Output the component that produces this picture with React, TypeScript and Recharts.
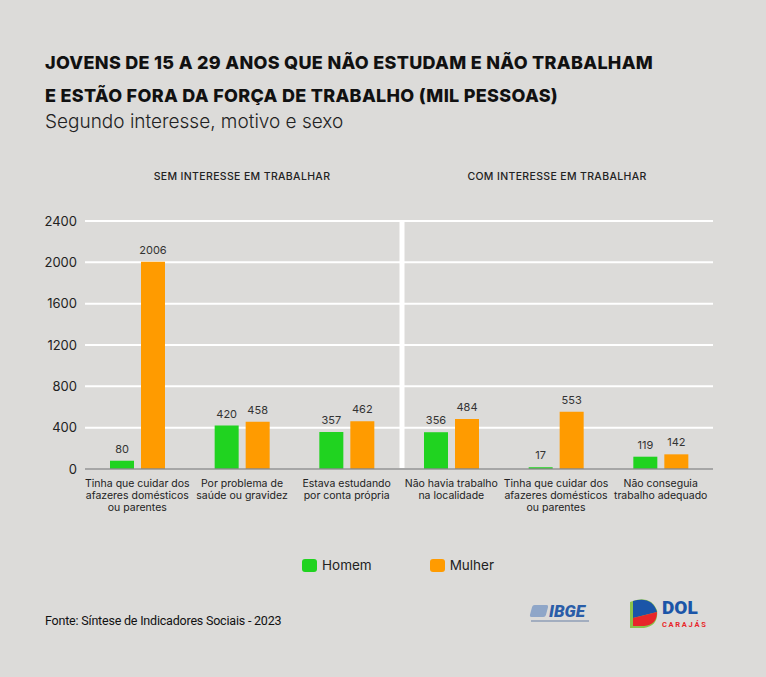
import { BarChart, Bar, XAxis, YAxis, CartesianGrid, LabelList, Legend } from 'recharts';

const categories = [
  'Tinha que cuidar dos\nafazeres domésticos\nou parentes',
  'Por problema de\nsaúde ou gravidez',
  'Estava estudando\npor conta própria',
  'Não havia trabalho\nna localidade',
  'Tinha que cuidar dos\nafazeres domésticos\nou parentes',
  'Não conseguia\ntrabalho adequado',
];
const homem = [80, 420, 357, 356, 17, 119];
const mulher = [2006, 458, 462, 484, 553, 142];
const yTicks = [0, 400, 800, 1200, 1600, 2000, 2400];
const sections = ['SEM INTERESSE EM TRABALHAR', 'COM INTERESSE EM TRABALHAR'];

const GREEN = '#20d320';
const ORANGE = '#ff9b00';
const BG = '#dcdbd9';
const FONT = 'Inter, "Open Sans", sans-serif';

const data = categories.map((c, i) => ({ id: 'c' + i, label: c, homem: homem[i], mulher: mulher[i] }));

const CategoryTick = (props: any) => {
  const { x, y, index } = props;
  const lines = categories[index].split('\n');
  return (
    <text x={x} y={y} textAnchor="middle" fontSize={10.5} fill="#222" fontFamily={FONT}>
      {lines.map((l, i) => (
        <tspan key={i} x={x} dy={i === 0 ? 10 : 12}>
          {l}
        </tspan>
      ))}
    </text>
  );
};

const LegendContent = () => (
  <div style={{ display: 'flex', paddingLeft: 302, fontFamily: FONT, fontSize: 13.5, color: '#222' }}>
    {[
      ['Homem', GREEN],
      ['Mulher', ORANGE],
    ].map(([name, color], i) => (
      <div key={name} style={{ display: 'flex', alignItems: 'center', marginRight: i === 0 ? 58 : 0 }}>
        <span style={{ width: 15, height: 13, borderRadius: 3, background: color, marginRight: 5 }} />
        {name}
      </div>
    ))}
  </div>
);

export default function App() {
  return (
    <div style={{ position: 'absolute', top: 0, left: 0, width: 766, height: 677, background: BG, overflow: 'hidden', fontFamily: FONT, color: '#111' }}>
      <div style={{ position: 'absolute', left: 45, top: 46, fontSize: 18, fontWeight: 800, lineHeight: '33px', letterSpacing: 0.3, whiteSpace: 'nowrap' }}>
        JOVENS DE 15 A 29 ANOS QUE NÃO ESTUDAM E NÃO TRABALHAM
        <br />
        E ESTÃO FORA DA FORÇA DE TRABALHO (MIL PESSOAS)
      </div>
      <div style={{ position: 'absolute', left: 45, top: 110, fontSize: 19, fontWeight: 300, color: '#222' }}>
        Segundo interesse, motivo e sexo
      </div>
      {sections.map((s, i) => (
        <div
          key={s}
          style={{ position: 'absolute', top: 170, left: i === 0 ? 142 : 457, width: 200, textAlign: 'center', fontSize: 10.5, fontWeight: 500, letterSpacing: 0.35, color: '#222' }}
        >
          {s}
        </div>
      ))}
      <div style={{ position: 'absolute', top: 0, left: 0 }}>
        <BarChart width={766} height={540} data={data} margin={{ top: 221, right: 53, left: 40, bottom: 21 }} barSize={24} barGap={7}>
          <CartesianGrid vertical={false} stroke="#ffffff" strokeWidth={2} />
          <CartesianGrid
            horizontal={false}
            stroke="#ffffff"
            strokeWidth={5}
            verticalCoordinatesGenerator={({ offset }: any) => [offset.left + offset.width / 2 + 3]}
          />
          <XAxis dataKey="id" interval={0} tickLine={false} axisLine={{ stroke: '#888', strokeWidth: 1.5 }} height={50} tick={<CategoryTick />} />
          <YAxis
            domain={[0, 2400]}
            ticks={yTicks}
            width={45}
            tickLine={false}
            axisLine={false}
            tick={{ fontSize: 13, fill: '#222', fontFamily: FONT }}
          />
          <Legend verticalAlign="middle" align="center" wrapperStyle={{ top: 557, left: 0, width: 766 }} content={<LegendContent />} />
          <Bar dataKey="homem" name="Homem" fill={GREEN} isAnimationActive={false}>
            <LabelList dataKey="homem" position="top" offset={8} fontSize={11} fill="#333" fontFamily={FONT} />
          </Bar>
          <Bar dataKey="mulher" name="Mulher" fill={ORANGE} isAnimationActive={false}>
            <LabelList dataKey="mulher" position="top" offset={8} fontSize={11} fill="#333" fontFamily={FONT} />
          </Bar>
        </BarChart>
      </div>
      <div style={{ position: 'absolute', left: 45, top: 613, fontSize: 12.5, fontFamily: 'Roboto, sans-serif', color: '#111', letterSpacing: -0.2 }}>
        Fonte: Síntese de Indicadores Sociais - 2023
      </div>
      <div style={{ position: 'absolute', left: 531, top: 601, display: 'flex', alignItems: 'center' }}>
        <div style={{ width: 16, height: 12, background: '#8fa6c8', marginRight: 2, transform: 'skewX(-15deg)', borderRadius: 2 }} />
        <div style={{ fontFamily: 'Roboto, sans-serif', fontStyle: 'italic', fontWeight: 900, fontSize: 17, color: '#2a5da8', letterSpacing: 0 }}>IBGE</div>
      </div>
      <div style={{ position: 'absolute', left: 531, top: 620, width: 58, height: 1.5, background: '#a2adbf' }} />
      <svg style={{ position: 'absolute', left: 628, top: 596 }} width={90} height={40}>
        <path d="M2 6 Q 22 -2 29 14 Q 31 30 16 32 L 2 32 Z" fill="#8bc34a" />
        <path d="M5 5 Q 24 0 29 16 L 5 22 Z" fill="#1b55a8" />
        <path d="M5 22 L 29 16 Q 29 29 16 30 L 5 30 Z" fill="#e8262a" />
        <text x={34} y={18} fontFamily="Roboto, sans-serif" fontWeight={900} fontSize={19} fill="#1b55a8">DOL</text>
        <text x={34} y={31} fontFamily="Roboto, sans-serif" fontWeight={700} fontSize={7.5} letterSpacing={1.7} fill="#e8262a">CARAJÁS</text>
      </svg>
    </div>
  );
}
